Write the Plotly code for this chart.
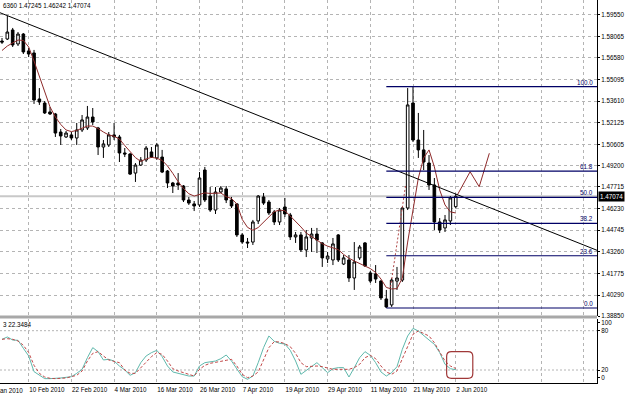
import plotly.graph_objects as go

# ---------------- data ----------------
dates = [
    "2010-02-03", "2010-02-04", "2010-02-05", "2010-02-08", "2010-02-09", "2010-02-10", "2010-02-11", "2010-02-12",
    "2010-02-15", "2010-02-16", "2010-02-17", "2010-02-18", "2010-02-19", "2010-02-22", "2010-02-23", "2010-02-24",
    "2010-02-25", "2010-02-26", "2010-03-01", "2010-03-02", "2010-03-03", "2010-03-04", "2010-03-05", "2010-03-08",
    "2010-03-09", "2010-03-10", "2010-03-11", "2010-03-12", "2010-03-15", "2010-03-16", "2010-03-17", "2010-03-18",
    "2010-03-19", "2010-03-22", "2010-03-23", "2010-03-24", "2010-03-25", "2010-03-26", "2010-03-29", "2010-03-30",
    "2010-03-31", "2010-04-01", "2010-04-02", "2010-04-05", "2010-04-06", "2010-04-07", "2010-04-08", "2010-04-09",
    "2010-04-12", "2010-04-13", "2010-04-14", "2010-04-15", "2010-04-16", "2010-04-19", "2010-04-20", "2010-04-21",
    "2010-04-22", "2010-04-23", "2010-04-26", "2010-04-27", "2010-04-28", "2010-04-29", "2010-04-30", "2010-05-03",
    "2010-05-04", "2010-05-05", "2010-05-06", "2010-05-07", "2010-05-10", "2010-05-11", "2010-05-12", "2010-05-13",
    "2010-05-14", "2010-05-17", "2010-05-18", "2010-05-19", "2010-05-20", "2010-05-21", "2010-05-24", "2010-05-25",
    "2010-05-26", "2010-05-27", "2010-05-28", "2010-05-31", "2010-06-01", "2010-06-02",
]

open_ = [1.5774, 1.5788, 1.5850, 1.5754, 1.5822, 1.5706, 1.5692, 1.5376, 1.5348, 1.5287,
         1.5273, 1.5149, 1.5115, 1.5129, 1.5108, 1.5163, 1.5177, 1.5252, 1.5177, 1.5046,
         1.5060, 1.5129, 1.5115, 1.5005, 1.4998, 1.4867, 1.4922, 1.4957, 1.5012, 1.4971,
         1.4977, 1.4881, 1.4799, 1.4799, 1.4778, 1.4682, 1.4655, 1.4648, 1.4888, 1.4709,
         1.4613, 1.4737, 1.4758, 1.4682, 1.4655, 1.4442, 1.4393, 1.4393, 1.4538, 1.4703,
         1.4668, 1.4600, 1.4531, 1.4634, 1.4579, 1.4428, 1.4442, 1.4339, 1.4421, 1.4448,
         1.4387, 1.4277, 1.4270, 1.4442, 1.4242, 1.4270, 1.4146, 1.4284, 1.4387, 1.4181,
         1.4174, 1.4125, 1.4002, 1.3961, 1.4125, 1.4132, 1.4627, 1.5348, 1.5094, 1.5026,
         1.4936, 1.4785, 1.4531, 1.4490, 1.4538, 1.4636]
high = [1.5795, 1.5946, 1.5864, 1.5836, 1.5829, 1.5726, 1.5713, 1.5451, 1.5362, 1.5321,
        1.5280, 1.5170, 1.5156, 1.5149, 1.5211, 1.5266, 1.5328, 1.5314, 1.5184, 1.5094,
        1.5149, 1.5211, 1.5129, 1.5039, 1.5005, 1.4936, 1.4977, 1.5053, 1.5046, 1.5074,
        1.5026, 1.4888, 1.4806, 1.4867, 1.4785, 1.4703, 1.4675, 1.4874, 1.4909, 1.4771,
        1.4771, 1.4778, 1.4778, 1.4703, 1.4661, 1.4455, 1.4421, 1.4545, 1.4716, 1.4730,
        1.4682, 1.4613, 1.4627, 1.4696, 1.4593, 1.4462, 1.4462, 1.4476, 1.4490, 1.4490,
        1.4393, 1.4325, 1.4421, 1.4448, 1.4304, 1.4304, 1.4393, 1.4373, 1.4393, 1.4194,
        1.4235, 1.4132, 1.4064, 1.4146, 1.4222, 1.4634, 1.5451, 1.5461, 1.5280, 1.5163,
        1.4991, 1.4833, 1.4558, 1.4579, 1.4709, 1.47245]
low = [1.5754, 1.5781, 1.5733, 1.5740, 1.5685, 1.5664, 1.5342, 1.5335, 1.5273, 1.5266,
       1.5115, 1.5060, 1.5108, 1.5094, 1.5060, 1.5149, 1.5163, 1.5197, 1.4991, 1.4971,
       1.5046, 1.5094, 1.4943, 1.4977, 1.4854, 1.4806, 1.4916, 1.4943, 1.4971, 1.4957,
       1.4867, 1.4764, 1.4730, 1.4751, 1.4668, 1.4648, 1.4606, 1.4634, 1.4668, 1.4600,
       1.4586, 1.4730, 1.4661, 1.4627, 1.4428, 1.4380, 1.4352, 1.4373, 1.4517, 1.4648,
       1.4579, 1.4510, 1.4510, 1.4565, 1.4407, 1.4387, 1.4325, 1.4290, 1.4325, 1.4318,
       1.4222, 1.4249, 1.4235, 1.4256, 1.4235, 1.4119, 1.4064, 1.4270, 1.4222, 1.4112,
       1.4112, 1.3995, 1.3940, 1.3947, 1.4064, 1.4119, 1.4613, 1.5080, 1.4971, 1.4888,
       1.4751, 1.4476, 1.4455, 1.4462, 1.4510, 1.46242]
close = [1.5767, 1.5836, 1.5747, 1.5822, 1.5699, 1.5685, 1.5369, 1.5355, 1.5280, 1.5273,
         1.5142, 1.5122, 1.5142, 1.5108, 1.5163, 1.5232, 1.5252, 1.5218, 1.5046, 1.5067,
         1.5129, 1.5115, 1.5005, 1.4998, 1.4860, 1.4922, 1.4957, 1.5039, 1.4977, 1.5060,
         1.4874, 1.4799, 1.4778, 1.4785, 1.4682, 1.4661, 1.4641, 1.4833, 1.4682, 1.4613,
         1.4737, 1.4764, 1.4682, 1.4641, 1.4442, 1.4393, 1.4387, 1.4531, 1.4709, 1.4661,
         1.4593, 1.4531, 1.4613, 1.4586, 1.4428, 1.4442, 1.4339, 1.4428, 1.4448, 1.4407,
         1.4284, 1.4297, 1.4380, 1.4270, 1.4284, 1.4146, 1.4256, 1.4359, 1.4229, 1.4125,
         1.4139, 1.4009, 1.3947, 1.4132, 1.4146, 1.4627, 1.5335, 1.5094, 1.5026, 1.4943,
         1.4785, 1.4531, 1.4476, 1.4545, 1.4696, 1.47074]

moving_avg = [1.5709, 1.5740, 1.5761, 1.5781, 1.5778, 1.5733, 1.5637, 1.5534, 1.5431, 1.5321,
              1.5252, 1.5201, 1.5163, 1.5152, 1.5160, 1.5173, 1.5190, 1.5190, 1.5173, 1.5149,
              1.5129, 1.5120, 1.5101, 1.5056, 1.5017, 1.4973, 1.4947, 1.4964, 1.4975, 1.4969,
              1.4954, 1.4916, 1.4865, 1.4808, 1.4761, 1.4725, 1.4709, 1.4718, 1.4731, 1.4727,
              1.4728, 1.4730, 1.4705, 1.4692, 1.4655, 1.4549, 1.4494, 1.4474, 1.4493, 1.4529,
              1.4570, 1.4602, 1.4613, 1.4608, 1.4572, 1.4536, 1.4497, 1.4455, 1.4431, 1.4406,
              1.4382, 1.4365, 1.4355, 1.4341, 1.4308, 1.4282, 1.4263, 1.4246, 1.4232, 1.4211,
              1.4184, 1.4139, 1.4081, 1.4071, 1.4073, 1.4146, 1.4393, 1.4600, 1.4833, 1.4971,
              1.5026, 1.4909, 1.4751, 1.4648, 1.4600, 1.4593]

stoch_main = [66.8, 70.4, 65.8, 65.3, 53.1, 41.4, 17.5, 11.9, 6.8, 6.8,
              6.8, 7.8, 8.8, 9.8, 14.9, 21.0, 38.8, 54.1, 48.0, 35.3,
              36.3, 33.7, 26.1, 20.0, 11.9, 15.9, 31.2, 41.4, 46.5, 50.0,
              40.4, 26.1, 17.0, 14.9, 12.9, 10.8, 10.8, 26.1, 31.2, 32.2,
              33.7, 37.3, 42.9, 33.7, 21.0, 9.8, 5.8, 10.8, 31.2, 54.1,
              71.9, 63.8, 60.7, 59.7, 50.0, 33.7, 13.4, 19.5, 26.1, 31.2,
              23.6, 15.9, 22.0, 23.6, 23.6, 9.3, 23.6, 38.8, 48.0, 42.4,
              31.2, 17.0, 10.8, 15.9, 25.1, 51.6, 71.9, 83.5, 79.5, 71.9,
              65.8, 59.2, 46.5, 28.7, 22.0, 20.4]
stoch_signal = [66.8, 67.8, 66.8, 64.3, 57.7, 46.5, 27.1, 14.9, 9.3, 7.3,
                6.8, 7.3, 7.8, 9.8, 11.9, 18.5, 33.7, 45.4, 48.0, 41.4,
                35.3, 33.2, 31.2, 20.0, 14.9, 14.9, 23.6, 31.2, 40.4, 46.5,
                43.9, 33.7, 22.0, 18.5, 15.9, 12.9, 10.8, 21.0, 27.1, 30.2,
                31.2, 33.2, 34.8, 36.3, 26.1, 13.4, 8.3, 10.8, 17.0, 36.3,
                54.1, 63.3, 62.7, 60.2, 55.6, 45.4, 31.2, 25.1, 26.1, 26.1,
                25.1, 23.6, 21.0, 21.0, 21.0, 21.0, 23.6, 28.7, 38.8, 42.4,
                37.3, 26.1, 17.0, 13.4, 18.5, 36.3, 56.6, 74.5, 79.5, 76.0,
                71.9, 61.7, 47.5, 33.7, 26.1, 22.3]

# drawn objects (bar index, price)
forecast_bar = [85.3, 87.7, 89.4, 91.3]
forecast_price = [1.4716, 1.4876, 1.4773, 1.5003]
dotted_bar = [72.8, 75.6]
dotted_price = [1.4085, 1.4780]
trend_bar = [-0.4, 111.5]
trend_price = [1.5969, 1.4336]
fib_low, fib_high = 1.3940, 1.5461
fib_start_bar = 72
fib_levels = [0.0, 23.6, 38.2, 50.0, 61.8, 100.0]
last_price = 1.47074
highlight_box = dict(x0=83.3, x1=88.2, y0=7.3, y1=47.9)

price_ticks = [1.59550, 1.58065, 1.56580, 1.55095, 1.53610, 1.52125, 1.50605, 1.49200,
               1.47715, 1.46230, 1.44745, 1.43260, 1.41775, 1.40290, 1.38850]
date_tick_dates = ["2010-02-10", "2010-02-22", "2010-03-04", "2010-03-16", "2010-03-26", "2010-04-07",
                   "2010-04-19", "2010-04-29", "2010-05-11", "2010-05-21", "2010-06-02"]
date_tick_text = ["10 Feb 2010", "22 Feb 2010", "4 Mar 2010", "16 Mar 2010", "26 Mar 2010", "7 Apr 2010",
                  "19 Apr 2010", "29 Apr 2010", "11 May 2010", "21 May 2010", "2 Jun 2010"]
future_grid_bars = [93, 101, 109]          # unlabeled grid columns right of the last bar
stoch_tick_vals = [91.8, 80, 20, 7.8]
stoch_tick_text = ["100", "80", "20", "0"]
header_text = "6360 1.47245 1.46242 1.47074"
stoch_header = "3 22.3484"
first_date_label = "29 Jan 2010"

# ---------------- styling ----------------
W, H = 625, 396
FONT = "Liberation Sans, Arial, sans-serif"
FS = 6.3
GRID = "#b4b4b4"
MA_COLOR = "#8e2a2a"
FIB_COLOR = "#000066"
X_RANGE = [-0.375, 111.47]
PLOT_RIGHT = 597 / W
MAIN_DOM = [1 - 316 / H, 1.0]
SUB_DOM = [1 - 383 / H, 1 - 318.5 / H]

bars = list(range(len(dates)))
tick_idx = [dates.index(d) for d in date_tick_dates] + future_grid_bars
tick_txt = date_tick_text + [""] * len(future_grid_bars)

fig = go.Figure()
fig.add_trace(go.Candlestick(
    x=bars, open=open_, high=high, low=low, close=close,
    increasing=dict(line=dict(color="black", width=1), fillcolor="white"),
    decreasing=dict(line=dict(color="black", width=1), fillcolor="black"),
    whiskerwidth=0, showlegend=False, hoverinfo="skip", xaxis="x", yaxis="y"))
fig.add_trace(go.Scatter(x=bars, y=moving_avg, mode="lines",
                         line=dict(color=MA_COLOR, width=1), xaxis="x", yaxis="y"))
fig.add_trace(go.Scatter(x=forecast_bar, y=forecast_price, mode="lines",
                         line=dict(color=MA_COLOR, width=1), xaxis="x", yaxis="y"))
fig.add_trace(go.Scatter(x=dotted_bar, y=dotted_price, mode="lines",
                         line=dict(color="#b04848", width=1, dash="2px,2px"), xaxis="x", yaxis="y"))
fig.add_trace(go.Scatter(x=trend_bar, y=trend_price, mode="lines",
                         line=dict(color="black", width=1), xaxis="x", yaxis="y"))

fig.add_trace(go.Scatter(x=bars, y=stoch_main, mode="lines",
                         line=dict(color="#5fb8ac", width=1), xaxis="x2", yaxis="y2"))
fig.add_trace(go.Scatter(x=bars, y=stoch_signal, mode="lines",
                         line=dict(color="#c04848", width=1, dash="3px,2px"), xaxis="x2", yaxis="y2"))

shapes = []
# current price line
shapes.append(dict(type="line", xref="x", yref="y", x0=X_RANGE[0], x1=X_RANGE[1],
                   y0=last_price, y1=last_price, line=dict(color="#c8c8c8", width=2), layer="below"))
# fibonacci levels
annotations = []
for lv in fib_levels:
    p = fib_low + (fib_high - fib_low) * lv / 100.0
    shapes.append(dict(type="line", xref="x", yref="y", x0=fib_start_bar, x1=X_RANGE[1],
                       y0=p, y1=p, line=dict(color=FIB_COLOR, width=1.2)))
    annotations.append(dict(xref="paper", yref="y", x=595 / W, y=p, xanchor="right", yanchor="bottom",
                            text=f"{lv:.1f}", showarrow=False, yshift=-1,
                            font=dict(family=FONT, size=FS, color=FIB_COLOR)))
# stochastic levels
for lv in (20, 80):
    shapes.append(dict(type="line", xref="x2", yref="y2", x0=X_RANGE[0], x1=X_RANGE[1],
                       y0=lv, y1=lv, line=dict(color=GRID, width=1, dash="2px,2px"), layer="below"))
# separator band between panels
shapes.append(dict(type="rect", xref="paper", yref="paper", x0=0, x1=PLOT_RIGHT,
                   y0=1 - 318.5 / H, y1=1 - 315.5 / H, fillcolor="#a8a8a8", line=dict(width=0)))
# rounded highlight box
b = highlight_box
rx, ry = 0.9, 7.0
path = (f"M {b['x0']+rx},{b['y0']} L {b['x1']-rx},{b['y0']} Q {b['x1']},{b['y0']} {b['x1']},{b['y0']+ry} "
        f"L {b['x1']},{b['y1']-ry} Q {b['x1']},{b['y1']} {b['x1']-rx},{b['y1']} "
        f"L {b['x0']+rx},{b['y1']} Q {b['x0']},{b['y1']} {b['x0']},{b['y1']-ry} "
        f"L {b['x0']},{b['y0']+ry} Q {b['x0']},{b['y0']} {b['x0']+rx},{b['y0']} Z")
shapes.append(dict(type="path", xref="x2", yref="y2", path=path, line=dict(color="#a03838", width=1.2)))

# last price box
annotations.append(dict(xref="paper", yref="y", x=598 / W, y=last_price, xanchor="left", yanchor="middle",
                        text=f"{last_price:.5f}", showarrow=False, bgcolor="black", borderpad=1,
                        font=dict(family=FONT, size=FS, color="white")))
# headers
annotations.append(dict(xref="paper", yref="paper", x=1 / W, y=1 - 5.5 / H, xanchor="left", yanchor="middle",
                        text=header_text, showarrow=False, font=dict(family=FONT, size=FS, color="black")))
annotations.append(dict(xref="paper", yref="paper", x=1 / W, y=1 - 324 / H, xanchor="left", yanchor="middle",
                        text=stoch_header, showarrow=False, font=dict(family=FONT, size=FS, color="black")))
# first date label (its grid column lies just left of the chart edge)
annotations.append(dict(xref="paper", yref="paper", x=-14.5 / W, y=1 - 390 / H, xanchor="left", yanchor="middle",
                        text=first_date_label, showarrow=False, font=dict(family=FONT, size=FS, color="black")))

fig.update_layout(
    width=W, height=H, margin=dict(l=0, r=0, t=0, b=0, autoexpand=False),
    paper_bgcolor="white", plot_bgcolor="white", showlegend=False,
    font=dict(family=FONT, size=FS, color="black"),
    shapes=shapes, annotations=annotations,
    xaxis=dict(domain=[0, PLOT_RIGHT], range=X_RANGE, anchor="y", tickvals=tick_idx, automargin=False,
               showticklabels=False, ticks="", showgrid=True, gridcolor=GRID, griddash="3px,3px",
               zeroline=False, showline=False, rangeslider=dict(visible=False)),
    xaxis2=dict(domain=[0, PLOT_RIGHT], range=X_RANGE, anchor="y2", matches="x", automargin=False,
                tickvals=tick_idx, ticktext=tick_txt, ticklabelposition="outside right", tickangle=0,
                ticks="", showgrid=True, gridcolor=GRID, griddash="3px,3px", zeroline=False,
                showline=True, linecolor="black", linewidth=1, tickfont=dict(size=FS)),
    yaxis=dict(domain=MAIN_DOM, range=[1.3885, 1.6056], anchor="x", side="right", automargin=False,
               tickvals=price_ticks, ticktext=[f"{v:.5f}" for v in price_ticks],
               showgrid=True, gridcolor=GRID, griddash="3px,3px", zeroline=False,
               showline=True, linecolor="black", linewidth=1, ticks="outside", ticklen=2,
               tickcolor="black", tickfont=dict(size=FS)),
    yaxis2=dict(domain=SUB_DOM, range=[0.15, 98.6], anchor="x2", side="right", automargin=False,
                tickvals=stoch_tick_vals, ticktext=stoch_tick_text, showgrid=False, zeroline=False,
                showline=True, linecolor="black", linewidth=1, ticks="outside", ticklen=2,
                tickcolor="black", tickfont=dict(size=FS)),
)

fig.write_html("out.html")
